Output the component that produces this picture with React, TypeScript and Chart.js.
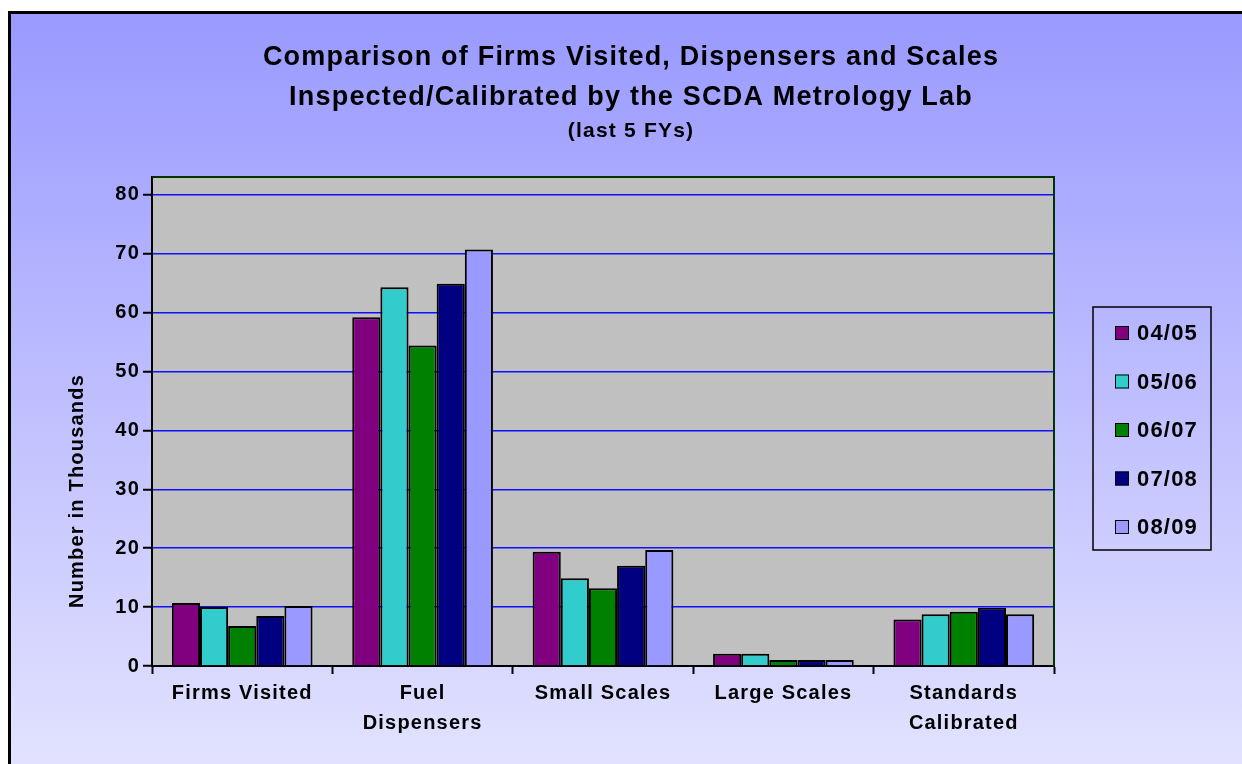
import React, { useEffect, useRef } from "react";
import { Chart, registerables } from "chart.js";

Chart.register(...registerables);

// ---- data ----
const categories: (string | string[])[] = [
  "Firms Visited",
  ["Fuel", "Dispensers"],
  "Small Scales",
  "Large Scales",
  ["Standards", "Calibrated"],
];
const seriesLabels = ["04/05", "05/06", "06/07", "07/08", "08/09"];
const fy0405 = [10.7, 59.2, 19.4, 2.1, 7.9];
const fy0506 = [10.0, 64.3, 14.9, 2.1, 8.8];
const fy0607 = [6.8, 54.4, 13.2, 1.0, 9.2];
const fy0708 = [8.5, 64.9, 17.0, 1.0, 9.9];
const fy0809 = [10.2, 70.7, 19.7, 1.0, 8.8];
const seriesValues = [fy0405, fy0506, fy0607, fy0708, fy0809];
const seriesColors = ["#800080", "#33cccc", "#008000", "#000080", "#9999ff"];

const titleLines = [
  "Comparison of Firms Visited, Dispensers and Scales",
  "Inspected/Calibrated by the SCDA Metrology Lab",
];
const subtitleText = "(last 5 FYs)";
const yAxisTitle = "Number in Thousands";
const yMin = 0;
const yMax = 83;
const yStep = 10;

const FONT = "'Liberation Sans', Arial, sans-serif";
const LS = "1.2px";

const setSpacing = (c: any) => {
  try {
    c.ctx.letterSpacing = LS;
  } catch (e) {}
};

const decorPlugin = {
  id: "decor",
  beforeUpdate(c: any) {
    setSpacing(c);
  },
  beforeLayout(c: any) {
    setSpacing(c);
  },
  beforeDraw(c: any) {
    setSpacing(c);
    const { ctx, chartArea: a, width, height } = c;
    ctx.save();
    ctx.fillStyle = "#ffffff";
    ctx.fillRect(0, 0, width, height);
    const g = ctx.createLinearGradient(0, 11, 0, height);
    g.addColorStop(0, "#9999ff");
    g.addColorStop(1, "#e2e2ff");
    ctx.fillStyle = g;
    ctx.fillRect(8, 11, width - 8, height - 11);
    ctx.fillStyle = "#000000";
    ctx.fillRect(8, 11, 3, height - 11);
    ctx.fillRect(8, 11, width - 8, 3);
    ctx.fillStyle = "#c0c0c0";
    ctx.fillRect(a.left, a.top, a.right - a.left, a.bottom - a.top);
    ctx.restore();
  },
  beforeDatasetsDraw(c: any) {
    const { ctx, chartArea: a } = c;
    ctx.save();
    ctx.strokeStyle = "#003300";
    ctx.lineWidth = 2;
    ctx.beginPath();
    ctx.moveTo(a.left, a.top);
    ctx.lineTo(a.right, a.top);
    ctx.lineTo(a.right, a.bottom);
    ctx.stroke();
    ctx.restore();
  },
  afterDraw(c: any) {
    const { ctx } = c;
    ctx.save();
    ctx.letterSpacing = LS;
    ctx.fillStyle = "#000000";
    ctx.textAlign = "center";
    ctx.textBaseline = "middle";
    // titles
    ctx.font = `bold 27px ${FONT}`;
    ctx.fillText(titleLines[0], 631, 58);
    ctx.fillText(titleLines[1], 631, 98);
    ctx.font = `bold 21px ${FONT}`;
    ctx.fillText(subtitleText, 631, 131);
    // y axis title
    ctx.save();
    ctx.translate(77, 491);
    ctx.rotate(-Math.PI / 2);
    ctx.font = `bold 20px ${FONT}`;
    ctx.fillText(yAxisTitle, 0, 0);
    ctx.restore();
    // legend
    const lx = 1093, ly = 307, lw = 118, lh = 243;
    ctx.lineWidth = 1.5;
    ctx.strokeStyle = "#000000";
    ctx.strokeRect(lx, ly, lw, lh);
    ctx.font = `bold 22px ${FONT}`;
    ctx.textAlign = "left";
    const ds = c.data.datasets;
    for (let i = 0; i < ds.length; i++) {
      const cy = 333 + i * 48.5;
      ctx.fillStyle = ds[i].backgroundColor;
      ctx.fillRect(1115, cy - 7, 14, 14);
      ctx.lineWidth = 1;
      ctx.strokeRect(1115.5, cy - 6.5, 13, 13);
      ctx.fillStyle = "#000000";
      ctx.fillText(ds[i].label, 1137, cy + 1);
    }
    ctx.restore();
  },
};

export default function App() {
  const ref = useRef<HTMLCanvasElement | null>(null);
  useEffect(() => {
    if (!ref.current) return;
    const tickFont = { family: FONT, weight: "bold" as const, size: 20, lineHeight: 1.5 };
    const chart = new Chart(ref.current, {
      type: "bar",
      data: {
        labels: categories as any,
        datasets: seriesLabels.map((label, i) => ({
          label,
          data: seriesValues[i],
          backgroundColor: seriesColors[i],
          borderColor: "#000000",
          borderWidth: 2,
          barPercentage: 1,
          categoryPercentage: 0.78,
        })),
      },
      options: {
        responsive: false,
        animation: false,
        events: [],
        layout: { padding: { left: 0, top: 177, right: 188, bottom: 0 } },
        plugins: {
          legend: { display: false },
          title: { display: false },
          tooltip: { enabled: false },
        },
        scales: {
          x: {
            grid: {
              display: true,
              offset: true,
              drawOnChartArea: false,
              drawTicks: true,
              tickLength: 8,
              tickColor: "#000000",
              tickWidth: 2,
            },
            border: { color: "#000000", width: 2 },
            ticks: {
              color: "#000000",
              font: tickFont,
              padding: 4,
              maxRotation: 0,
              autoSkip: false,
            },
            afterFit: (s: any) => {
              s.height = 98;
            },
          },
          y: {
            min: yMin,
            max: yMax,
            ticks: {
              stepSize: yStep,
              includeBounds: false,
              color: "#000000",
              font: { ...tickFont, lineHeight: 1.2 },
              padding: 3,
            },
            grid: {
              color: (ctx: any) => (ctx.tick && ctx.tick.value === 0 ? "#000000" : "#1010ff"),
              lineWidth: 1.5,
              tickLength: 9,
              tickColor: "#000000",
              tickWidth: 2,
            },
            border: { color: "#000000", width: 2 },
            afterFit: (s: any) => {
              s.width = 152;
            },
          },
        },
      },
      plugins: [decorPlugin],
    } as any);
    return () => chart.destroy();
  }, []);
  return (
    <div style={{ position: "absolute", left: 0, top: 0, width: 1242, height: 764 }}>
      <canvas ref={ref} width={1242} height={764} style={{ display: "block" }} />
    </div>
  );
}
